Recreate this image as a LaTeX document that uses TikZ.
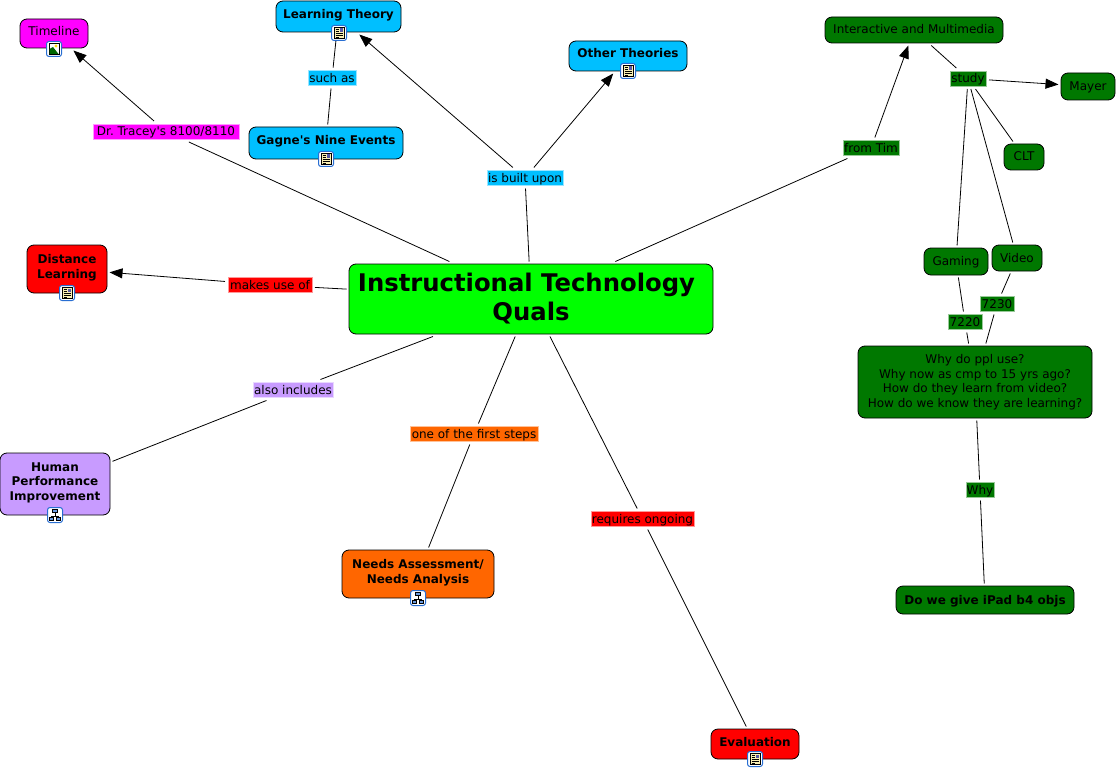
\documentclass[tikz,border=0pt]{standalone}
\usepackage{fontspec}
\setmainfont{DejaVu Sans}
\frenchspacing
\usetikzlibrary{arrows.meta}
\definecolor{mapGreen}{RGB}{0,120,0}
\definecolor{mapLime}{RGB}{0,255,0}
\definecolor{mapCyan}{RGB}{0,191,255}
\definecolor{mapMagenta}{RGB}{255,0,255}
\definecolor{mapRed}{RGB}{255,0,0}
\definecolor{mapPurple}{RGB}{200,155,255}
\definecolor{mapOrange}{RGB}{255,102,0}
\definecolor{iconBlue}{RGB}{40,110,210}
\definecolor{iconCream}{RGB}{250,240,180}
\tikzset{
  concept/.style={draw=black,rounded corners=7pt,line width=0.8pt,align=center,inner sep=0pt,outer sep=2.5pt,font=\fontsize{12}{14.6}\selectfont},
  boldconcept/.style={concept,font=\fontsize{12}{14.4}\selectfont\bfseries},
  oneline/.style={text height=11pt,text depth=3pt},
  withicon/.style={text height=10pt,text depth=6pt},
  twoicon/.style={text depth=5pt},
  linklabel/.style={fill=#1,draw=#1!40,line width=0.6pt,inner sep=0pt,outer sep=3pt,minimum height=13pt,text height=12pt,text depth=3pt,font=\fontsize{12}{14}\selectfont},
  link/.style={line width=0.8pt},
  arrowlink/.style={link,-{Triangle[length=13pt,width=10pt]}},
  iconframe/.style={draw=iconBlue,fill=white,rounded corners=2.5pt,line width=1pt},
  docicon/.pic={
    \draw[iconframe] (-7.5,-7.5) rectangle (7.5,7.5);
    \draw[fill=iconCream,line width=0.8pt] (-5,-5.5) rectangle (5,5.5);
    \fill[gray!70!blue] (0.5,-4.5) rectangle (4,-1);
    \foreach \ypos in {-4,-2,0,2,4} \draw[line width=0.6pt] (-3.5,\ypos) -- (0,\ypos);
    \draw[line width=0.6pt] (0,0.5) -- (3.5,0.5) (0,2.5) -- (3.5,2.5);
  },
  imgicon/.pic={
    \draw[iconframe] (-7.5,-7.5) rectangle (7.5,7.5);
    \draw[fill=white,line width=0.8pt] (-5,-5.5) rectangle (5,5.5);
    \fill[yellow!80!orange] (2,-3) circle (1.6pt);
    \fill[green!40!black] (-4.5,5) -- (-4.5,0) -- (-1,-2) -- (4.5,5) -- cycle;
  },
  mapicon/.pic={
    \draw[iconframe] (-7.5,-7.5) rectangle (7.5,7.5);
    \draw[line width=0.7pt] (0,-2) -- (0,1) (-3.5,2) -- (-3.5,1) -- (3.5,1) -- (3.5,2);
    \draw[fill=iconBlue!70,line width=0.7pt] (-2.5,-5.5) rectangle (2.5,-2.5);
    \draw[fill=iconBlue!70,line width=0.7pt] (-5.5,2) rectangle (-1.5,5.5) (1.5,2) rectangle (5.5,5.5);
  },
}
\begin{document}
\begin{tikzpicture}[x=1pt,y=-1pt]
\useasboundingbox (0,0) rectangle (1116,770);
% concepts
\node[concept,fill=mapLime,minimum width=364pt,minimum height=70pt,font=\fontsize{24.3}{29}\selectfont\bfseries] (main) at (531,299) {Instructional Technology\kern 9pt\\Quals};
\node[concept,withicon,fill=mapMagenta,minimum width=68pt,minimum height=29pt] (timeline) at (54,33.5) {Timeline};
\node[boldconcept,withicon,fill=mapCyan,minimum width=125pt,minimum height=31pt] (theory) at (338.5,16.5) {Learning Theory};
\node[boldconcept,withicon,fill=mapCyan,minimum width=154pt,minimum height=32pt] (gagne) at (326,143) {Gagne\textquotesingle s Nine Events};
\node[boldconcept,withicon,fill=mapCyan,minimum width=118pt,minimum height=30pt] (others) at (628,56) {Other Theories};
\node[boldconcept,twoicon,fill=mapRed,minimum width=80pt,minimum height=48pt] (distance) at (67,269) {Distance\\Learning};
\node[boldconcept,twoicon,fill=mapPurple,minimum width=110pt,minimum height=62pt] (human) at (55,484) {Human\\Performance\\Improvement};
\node[boldconcept,twoicon,fill=mapOrange,minimum width=152pt,minimum height=48pt] (needs) at (418,574) {Needs Assessment/\\Needs Analysis};
\node[boldconcept,withicon,fill=mapRed,minimum width=88pt,minimum height=30pt] (evaluation) at (755,744) {Evaluation};
\node[concept,oneline,fill=mapGreen,minimum width=178pt,minimum height=26pt] (multimedia) at (914,30) {Interactive and Multimedia};
\node[concept,oneline,fill=mapGreen,minimum width=54pt,minimum height=27pt] (mayer) at (1088,86.5) {Mayer};
\node[concept,oneline,fill=mapGreen,minimum width=40pt,minimum height=26pt] (clt) at (1024,157) {CLT};
\node[concept,oneline,fill=mapGreen,minimum width=64pt,minimum height=27pt] (gaming) at (956,261.5) {Gaming};
\node[concept,oneline,fill=mapGreen,minimum width=50pt,minimum height=26pt] (video) at (1017,258) {Video};
\node[concept,fill=mapGreen,minimum width=234pt,minimum height=72pt] (questions) at (975,382) {Why do ppl use?\\Why now as cmp to 15 yrs ago?\\How do they learn from video?\\How do we know they are learning?};
\node[boldconcept,oneline,fill=mapGreen,minimum width=178pt,minimum height=28pt] (ipad) at (985,600) {Do we give iPad b4 objs};
% labels
\node[linklabel=mapCyan,minimum width=48pt] (suchas) at (332,78) {such as};
\node[linklabel=mapMagenta,minimum width=146pt] (tracey) at (166,131.5) {Dr. Tracey\textquotesingle s 8100/8110};
\node[linklabel=mapCyan,minimum width=76pt] (built) at (525,178) {is built upon};
\node[linklabel=mapGreen,minimum width=56pt] (fromtim) at (871,148) {from Tim};
\node[linklabel=mapGreen,minimum width=36pt] (study) at (968,78.5) {study};
\node[linklabel=mapRed,minimum width=84pt] (makes) at (270,285) {makes use of};
\node[linklabel=mapPurple,minimum width=80pt] (includes) at (293,390) {also includes};
\node[linklabel=mapOrange,minimum width=128pt] (firststeps) at (474,434) {one of the first steps};
\node[linklabel=mapRed,minimum width=103pt] (ongoing) at (642.5,519) {requires ongoing};
\node[linklabel=mapGreen,minimum width=34pt] (sevenB) at (965,322) {7220};
\node[linklabel=mapGreen,minimum width=34pt] (sevenC) at (997,304) {7230};
\node[linklabel=mapGreen,minimum width=28pt] (whylabel) at (980,490) {Why};
% links
\draw[link] (main) -- (tracey);
\draw[arrowlink] (tracey) -- (timeline);
\draw[link] (main) -- (built);
\draw[arrowlink] (built) -- (theory);
\draw[arrowlink] (built) -- (others);
\draw[link] (theory) -- (suchas);
\draw[link] (suchas) -- (gagne);
\draw[link] (main) -- (makes);
\draw[arrowlink] (makes) -- (distance);
\draw[link] (main) -- (includes);
\draw[link] (includes) -- (human);
\draw[link] (main) -- (firststeps);
\draw[link] (firststeps) -- (needs);
\draw[link] (main) -- (ongoing);
\draw[link] (ongoing) -- (evaluation);
\draw[link] (main) -- (fromtim);
\draw[arrowlink] (fromtim) -- (multimedia);
\draw[link] (multimedia) -- (study);
\draw[arrowlink] (study) -- (mayer);
\draw[link] (study) -- (clt);
\draw[link] (study) -- (gaming);
\draw[link] (study) -- (video);
\draw[link] (gaming) -- (sevenB);
\draw[link] (sevenB) -- (questions);
\draw[link] (video) -- (sevenC);
\draw[link] (sevenC) -- (questions);
\draw[link] (questions) -- (whylabel);
\draw[link] (whylabel) -- (ipad);
% icons
\pic at (54,49) {imgicon};
\pic at (339,33) {docicon};
\pic at (326,159) {docicon};
\pic at (628,71) {docicon};
\pic at (67,293) {docicon};
\pic at (55,515) {mapicon};
\pic at (418,598) {mapicon};
\pic at (755,759) {docicon};
\end{tikzpicture}
\end{document}
